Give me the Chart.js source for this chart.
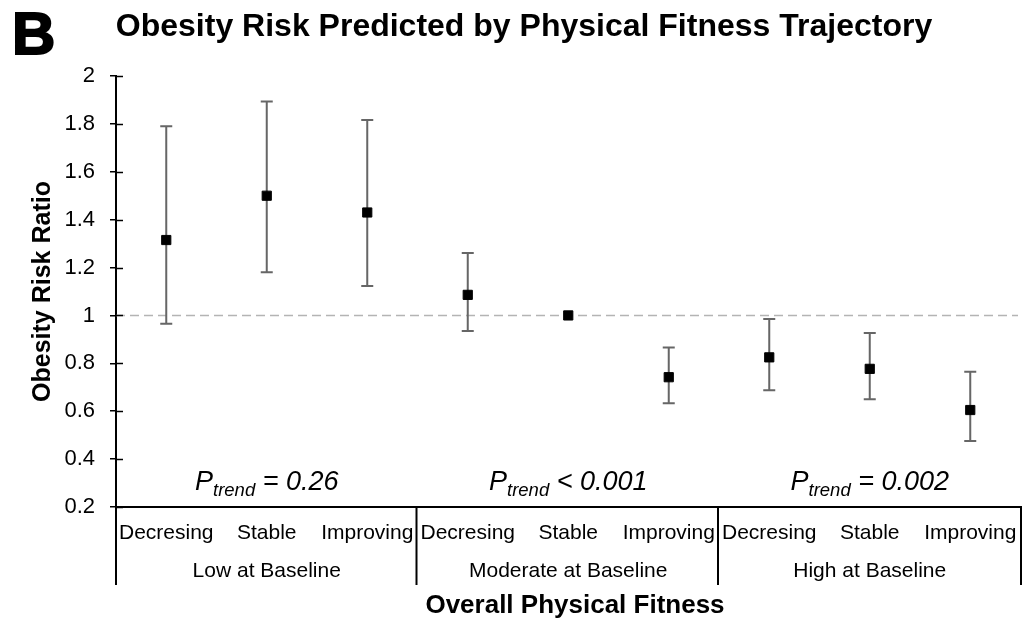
<!DOCTYPE html>
<html>
<head>
<meta charset="utf-8">
<script src="https://cdn.jsdelivr.net/npm/chart.js@4/dist/chart.umd.min.js"></script>
<style>
  body { margin: 0; background: #fff; }
  canvas { display: block; }
</style>
</head>
<body>
<canvas id="risk-chart" width="1028" height="621"></canvas>
<script>
// Obesity risk ratio by fitness trajectory (panel B)

const trajectories = [
  "Decresing", "Stable", "Improving",
  "Decresing", "Stable", "Improving",
  "Decresing", "Stable", "Improving"
];
const baselineGroups = ["Low at Baseline", "Moderate at Baseline", "High at Baseline"];
const riskRatio = [1.315, 1.50, 1.43, 1.086, 1.0, 0.742, 0.825, 0.777, 0.605];
const lowerCI = [0.965, 1.18, 1.123, 0.935, null, 0.633, 0.688, 0.650, 0.476];
const upperCI = [1.79, 1.894, 1.816, 1.261, null, 0.866, 0.985, 0.927, 0.765];
const pTrend = ["= 0.26", "< 0.001", "= 0.002"];
const referenceRatio = 1;

const FONT = "'Liberation Sans', Arial, Helvetica, sans-serif";
const AXIS_END = 1022; // where the drawn axis stops on the right

// dashed reference line + error bars, under the markers
const errorBarPlugin = {
  id: "errorBars",
  beforeDatasetsDraw(chart) {
    const { ctx, chartArea } = chart;
    const y = chart.scales.y;
    const meta = chart.getDatasetMeta(0);

    ctx.save();
    const yRef = y.getPixelForValue(referenceRatio);
    ctx.strokeStyle = "#b4b4b4";
    ctx.lineWidth = 1.5;
    ctx.setLineDash([9, 5]);
    ctx.beginPath();
    ctx.moveTo(chartArea.left, yRef);
    ctx.lineTo(AXIS_END - 4, yRef);
    ctx.stroke();
    ctx.setLineDash([]);

    ctx.strokeStyle = "#666666";
    ctx.lineWidth = 2;
    meta.data.forEach((pt, i) => {
      if (lowerCI[i] == null || upperCI[i] == null) return;
      const x = pt.x;
      const yLo = y.getPixelForValue(lowerCI[i]);
      const yHi = y.getPixelForValue(upperCI[i]);
      ctx.beginPath();
      ctx.moveTo(x, yLo);
      ctx.lineTo(x, yHi);
      ctx.moveTo(x - 6, yLo);
      ctx.lineTo(x + 6, yLo);
      ctx.moveTo(x - 6, yHi);
      ctx.lineTo(x + 6, yHi);
      ctx.stroke();
    });
    ctx.restore();
  }
};

// panel letter, title, category + group axis, p-trend labels
const annotationPlugin = {
  id: "annotations",
  afterDraw(chart) {
    const { ctx, chartArea } = chart;
    const x = chart.scales.x;
    const y = chart.scales.y;
    ctx.save();
    ctx.fillStyle = "#000";
    ctx.strokeStyle = "#000";

    // panel letter
    ctx.font = "bold 60px " + FONT;
    ctx.textAlign = "left";
    ctx.textBaseline = "alphabetic";
    ctx.lineWidth = 2;
    ctx.fillText("B", 12, 54);
    ctx.strokeText("B", 12, 54);

    // title
    ctx.font = "bold 32px " + FONT;
    ctx.textAlign = "center";
    ctx.fillText("Obesity Risk Predicted by Physical Fitness Trajectory", 524, 36);

    // inner half of the y ticks
    ctx.lineWidth = 1.5;
    y.ticks.forEach((t, i) => {
      const py = Math.round(y.getPixelForTick(i)) + 0.5;
      ctx.beginPath();
      ctx.moveTo(chartArea.left, py);
      ctx.lineTo(chartArea.left + 7, py);
      ctx.stroke();
    });

    // x axis baseline
    ctx.lineWidth = 2;
    ctx.beginPath();
    ctx.moveTo(chartArea.left, chartArea.bottom);
    ctx.lineTo(AXIS_END, chartArea.bottom);
    ctx.stroke();

    // trajectory labels
    ctx.font = "21px " + FONT;
    ctx.textAlign = "center";
    trajectories.forEach((label, i) => {
      ctx.fillText(label, x.getPixelForValue(i), 539);
    });

    // group separators
    const bottom = 585;
    const bounds = [chartArea.left];
    for (let g = 1; g < baselineGroups.length; g++) {
      const i = g * 3;
      bounds.push((x.getPixelForValue(i - 1) + x.getPixelForValue(i)) / 2 - 1);
    }
    bounds.push(AXIS_END - 1);
    bounds.forEach((bx) => {
      ctx.beginPath();
      ctx.moveTo(bx, chartArea.bottom);
      ctx.lineTo(bx, bottom);
      ctx.stroke();
    });

    // group labels + p-trend
    baselineGroups.forEach((label, g) => {
      const cx = (x.getPixelForValue(g * 3) + x.getPixelForValue(g * 3 + 2)) / 2;
      ctx.font = "21px " + FONT;
      ctx.textAlign = "center";
      ctx.fillText(label, cx, 577);

      const bigFont = "italic 27px " + FONT;
      const subFont = "italic 18.5px " + FONT;
      const rest = " " + pTrend[g];
      ctx.font = bigFont;
      const wP = ctx.measureText("P").width;
      const wRest = ctx.measureText(rest).width;
      ctx.font = subFont;
      const wSub = ctx.measureText("trend").width;
      let sx = cx - (wP + wSub + wRest) / 2;
      ctx.textAlign = "left";
      ctx.font = bigFont;
      ctx.fillText("P", sx, 490);
      sx += wP;
      ctx.font = subFont;
      ctx.fillText("trend", sx, 496);
      sx += wSub;
      ctx.font = bigFont;
      ctx.fillText(rest, sx, 490);
    });

    // x axis title
    ctx.font = "bold 26px " + FONT;
    ctx.textAlign = "center";
    ctx.fillText("Overall Physical Fitness", 575, 613);
    ctx.restore();
  }
};

new Chart(document.getElementById("risk-chart"), {
  type: "line",
  data: {
    labels: trajectories,
    datasets: [{
      data: riskRatio,
      showLine: false,
      pointStyle: "rect",
      pointRadius: 6.5,
      pointBackgroundColor: "#000",
      pointBorderColor: "#000",
      pointBorderWidth: 1
    }]
  },
  options: {
    responsive: false,
    animation: false,
    layout: { padding: { left: 0, top: 76, right: 0, bottom: 0 } },
    plugins: {
      legend: { display: false },
      tooltip: { enabled: false }
    },
    scales: {
      x: {
        type: "category",
        offset: true,
        grid: { display: false, drawTicks: false },
        border: { display: false },
        ticks: { display: false },
        afterFit: (scale) => { scale.height = 114; }
      },
      y: {
        min: 0.2,
        max: 2,
        grid: {
          drawOnChartArea: false,
          drawTicks: true,
          tickLength: 6,
          color: "#000",
          lineWidth: 1.5
        },
        border: { display: true, color: "#000", width: 2 },
        ticks: {
          stepSize: 0.2,
          color: "#000",
          padding: 15,
          font: { family: FONT, size: 22 },
          callback: (v) => String(+Number(v).toFixed(1))
        },
        title: {
          display: true,
          text: "Obesity Risk Ratio",
          color: "#000",
          font: { family: FONT, size: 25, weight: "bold" },
          padding: { top: 28, bottom: 0 }
        },
        afterFit: (scale) => { scale.width = 116; }
      }
    }
  },
  plugins: [errorBarPlugin, annotationPlugin]
});
</script>
</body>
</html>
